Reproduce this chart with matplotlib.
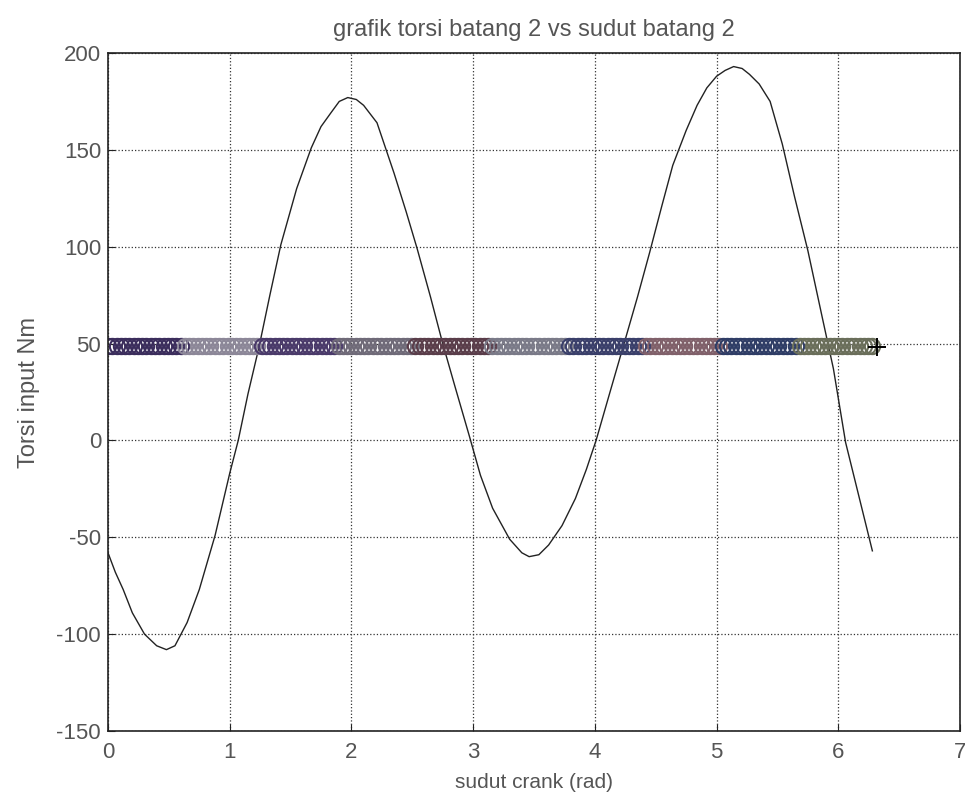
import numpy as np
import matplotlib.pyplot as plt

# torque curve (crank angle in rad, torque in Nm)
theta = [0.00, 0.06, 0.125, 0.20, 0.30, 0.40, 0.48, 0.55, 0.65, 0.75, 0.88,
         1.00, 1.07, 1.15, 1.24, 1.33, 1.42, 1.55, 1.67, 1.75, 1.83, 1.90,
         1.97, 2.04, 2.10, 2.21, 2.35, 2.45, 2.54, 2.65, 2.75, 2.85, 2.97,
         3.06, 3.16, 3.30, 3.40, 3.46, 3.54, 3.62, 3.73, 3.84, 3.93, 4.01,
         4.12, 4.24, 4.35, 4.45, 4.55, 4.64, 4.75, 4.84, 4.92, 5.00, 5.07,
         5.14, 5.21, 5.27, 5.35, 5.44, 5.54, 5.64, 5.75, 5.87, 5.96, 6.06,
         6.17, 6.28]
torque = [-58, -68, -77, -89, -100, -106, -108, -106, -94, -77, -49,
          -17, 0, 24, 48, 75, 101, 130, 151, 162, 169, 175,
          177, 176, 173, 164, 138, 118, 99, 74, 50, 28, 2,
          -18, -35, -51, -58, -60, -59, -54, -44, -30, -15, 0,
          24, 50, 74, 97, 121, 142, 160, 173, 182, 188, 191,
          193, 192, 189, 184, 175, 153, 126, 98, 63, 37, -1,
          -29, -57]

# mean torque drawn as a row of circles
avg_torque = 49
avg_x = np.linspace(0, 6.28, 180)
band_colors = ['#3b2d5c', '#8c8798', '#4a3a6a', '#6f6a78', '#5a3d4a',
               '#7a7a88', '#3a3f6a', '#80606a', '#2f3d66', '#6a6e5a']

fig = plt.figure(figsize=(9.65, 8.06), dpi=100)
ax = fig.add_axes([108/965, 75/806, 852/965, 678/806])

ax.plot(theta, torque, color='#222222', lw=1.0)

cols = [band_colors[(i * len(band_colors)) // len(avg_x)] for i in range(len(avg_x))]
for xi, c in zip(avg_x, cols):
    ax.plot(xi, avg_torque, 'o', ms=11, mfc='none', mec=c, mew=1.5)
ax.plot(avg_x[-1] + 0.04, avg_torque - 1, '+', color='black', ms=13, mew=1.4)

ax.set_xlim(0, 7)
ax.set_ylim(-150, 200)
ax.set_xticks(range(0, 8))
ax.set_yticks(range(-150, 201, 50))
ax.set_yticklabels([str(v) for v in range(-150, 201, 50)])
ax.grid(True, linestyle=':', color='#333333', lw=0.9)
ax.tick_params(direction='in', length=5, labelsize=16, colors='#222222',
               labelcolor='#555555', pad=5)
ax.tick_params(axis='x', pad=8)
for s in ax.spines.values():
    s.set_color('#222222')
    s.set_linewidth(1.2)

fam = ['Liberation Sans', 'DejaVu Sans']
for lab in ax.get_xticklabels() + ax.get_yticklabels():
    lab.set_family(fam)

ax.set_title('grafik torsi batang 2 vs sudut batang 2', fontsize=17,
             color='#555555', family=fam, pad=12)
ax.set_xlabel('sudut crank (rad)', fontsize=15, color='#555555', family=fam,
              labelpad=7)
ax.set_ylabel('Torsi input Nm', fontsize=17, color='#555555', family=fam,
              labelpad=12)

fig.savefig('out.png', dpi=100)
